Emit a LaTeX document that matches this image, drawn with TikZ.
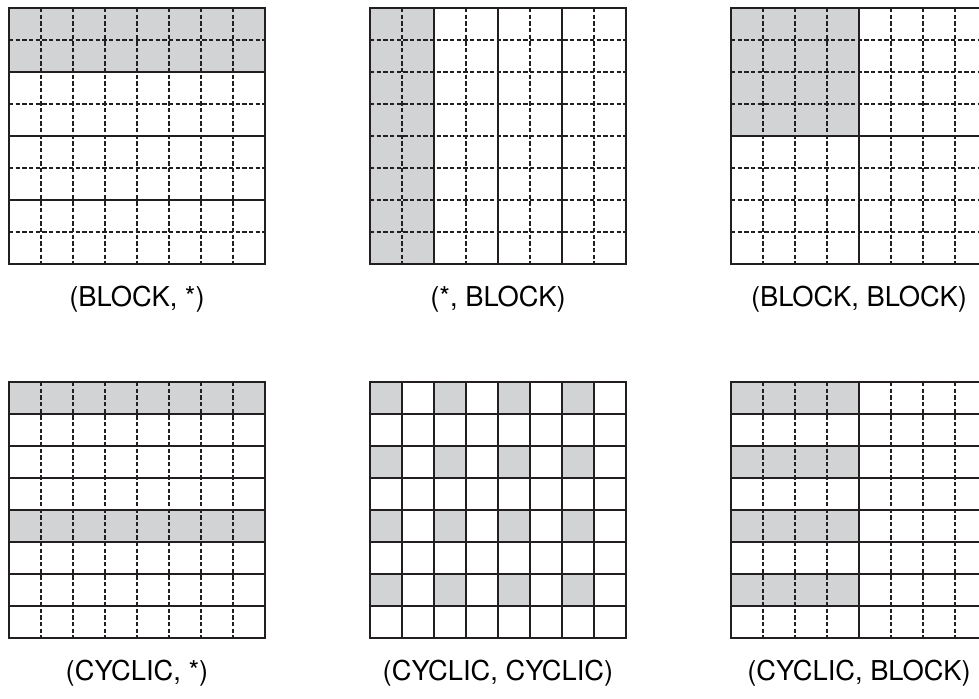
\documentclass[tikz,border=0pt]{standalone}
\usepackage{fontspec}
\setmainfont{TeX Gyre Heros}
\usetikzlibrary{positioning}
\definecolor{distgray}{RGB}{209,211,212}
\definecolor{distline}{RGB}{35,31,32}

% inner rules of an 8x8 distribution grid:
% #1 = step of the solid rows, #2 = step of the solid columns
\newcommand{\distgrid}[2]{%
  \foreach \k in {1,...,7}{
    \pgfmathtruncatemacro{\rr}{mod(\k,#1)}
    \ifnum\rr=0 \draw[solidrule] (0,\k) -- (8,\k); \else \draw[dashrule] (0,\k) -- (8,\k); \fi
    \pgfmathtruncatemacro{\cc}{mod(\k,#2)}
    \ifnum\cc=0 \draw[solidrule] (\k,0) -- (\k,8); \else \draw[dashrule] (\k,0) -- (\k,8); \fi
  }}

\begin{document}
\begin{tikzpicture}[
  x=0.75pt, y=-0.75pt,
  solidrule/.style={distline, line width=1.1pt},
  dashrule/.style={distline, line width=1pt, dash pattern=on 3.2pt off 1.8pt},
  owned/.style={fill=distgray},
  frame/.style={draw=distline, line width=1.5pt, minimum size=192pt,
                inner sep=0pt, outer sep=0pt},
  caption/.style={font=\fontsize{20.5}{24}\selectfont, inner sep=0pt},
  cell/.style={x=24pt, y=-24pt}
]
\useasboundingbox (0,0) rectangle (979,699);
\clip (0,0) rectangle (979,699);

% top row: block distributions
\begin{scope}[shift={(9,8)}, cell]
  \fill[owned] (0,0) rectangle (8,2);
  \distgrid{2}{8}
\end{scope}
\node[frame] (blockstar) at (137,136) {};
\node[caption, below=16pt of blockstar] (blockstarcap) {(BLOCK, *)};

\begin{scope}[shift={(370,8)}, cell]
  \fill[owned] (0,0) rectangle (2,8);
  \distgrid{8}{2}
\end{scope}
\node[frame] (starblock) at (498,136) {};
\node[caption, below=16pt of starblock] (starblockcap) {(*, BLOCK)};

\begin{scope}[shift={(731,8)}, cell]
  \fill[owned] (0,0) rectangle (4,4);
  \distgrid{4}{4}
\end{scope}
\node[frame] (blockblock) at (859,136) {};
\node[caption, below=16pt of blockblock] (blockblockcap) {(BLOCK, BLOCK)};

% bottom row: cyclic distributions
\begin{scope}[shift={(9,382)}, cell]
  \fill[owned] (0,0) rectangle (8,1) (0,4) rectangle (8,5);
  \distgrid{1}{8}
\end{scope}
\node[frame] (cyclicstar) at (137,510) {};
\node[caption, below=16pt of cyclicstar] (cyclicstarcap) {(CYCLIC, *)};

\begin{scope}[shift={(370,382)}, cell]
  \foreach \r in {0,2,4,6}
    \foreach \c in {0,2,4,6}
      \fill[owned] (\c,\r) rectangle ++(1,1);
  \distgrid{1}{1}
\end{scope}
\node[frame] (cycliccyclic) at (498,510) {};
\node[caption, below=16pt of cycliccyclic] (cycliccycliccap) {(CYCLIC, CYCLIC)};

\begin{scope}[shift={(731,382)}, cell]
  \foreach \r in {0,2,4,6}
    \fill[owned] (0,\r) rectangle (4,\r+1);
  \distgrid{1}{4}
\end{scope}
\node[frame] (cyclicblock) at (859,510) {};
\node[caption, below=16pt of cyclicblock] (cyclicblockcap) {(CYCLIC, BLOCK)};
\end{tikzpicture}
\end{document}
